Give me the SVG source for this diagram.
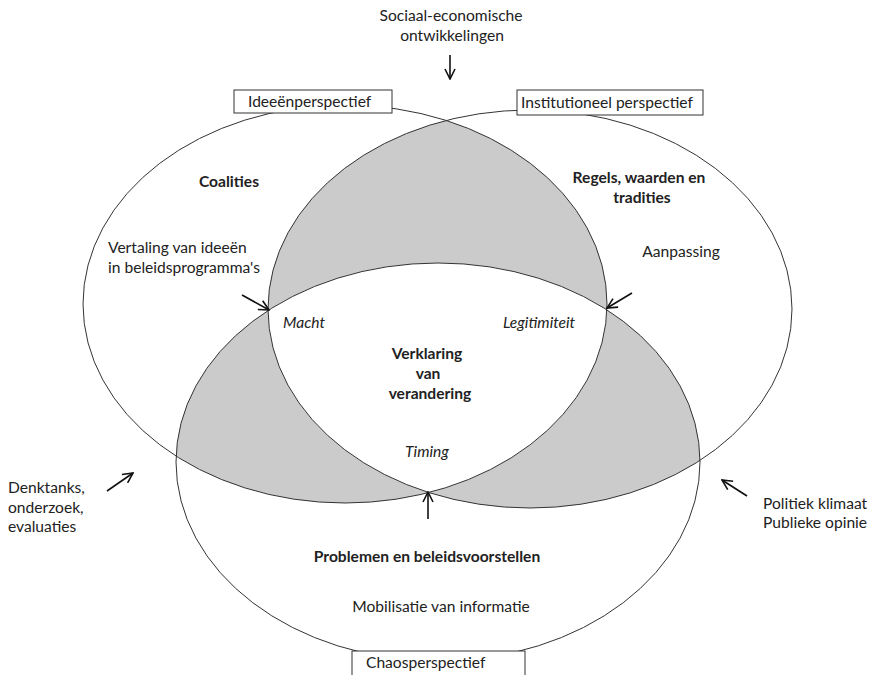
<svg xmlns="http://www.w3.org/2000/svg" width="875" height="675" viewBox="0 0 875 675">
<style>
text{font-family:Lato,"Open Sans","Liberation Sans",sans-serif;font-size:15.6px;fill:#222}
.b{font-weight:bold}
.i{font-style:italic}
.m{text-anchor:middle}
.outline{fill:none;stroke:#333;stroke-width:1}
.box{fill:#fff;stroke:#333;stroke-width:1}
.arrow{fill:none;stroke:#111;stroke-width:1.6;marker-end:url(#head)}
</style>
<defs>
<marker id="head" viewBox="0 0 12 12" refX="11" refY="6" markerWidth="12" markerHeight="12" markerUnits="userSpaceOnUse" orient="auto">
<path d="M1,1 L11,6 L1,11" fill="none" stroke="#111" stroke-width="1.6"/>
</marker>
<clipPath id="cL"><ellipse cx="345" cy="304" rx="262" ry="199"/></clipPath>
<clipPath id="cR"><ellipse cx="530" cy="309" rx="262" ry="199"/></clipPath>
<clipPath id="cB"><ellipse cx="438" cy="462" rx="262" ry="199"/></clipPath>
</defs>
<rect width="875" height="675" fill="#fff"/>
<g id="overlaps">
<ellipse cx="345" cy="304" rx="262" ry="199" fill="#cbcbcb" clip-path="url(#cR)"/>
<ellipse cx="345" cy="304" rx="262" ry="199" fill="#cbcbcb" clip-path="url(#cB)"/>
<ellipse cx="530" cy="309" rx="262" ry="199" fill="#cbcbcb" clip-path="url(#cB)"/>
<g clip-path="url(#cB)"><ellipse cx="345" cy="304" rx="262" ry="199" fill="#fff" clip-path="url(#cR)"/></g>
</g>
<g id="ideeen">
<ellipse class="outline" cx="345" cy="304" rx="262" ry="199"/>
<rect class="box" x="234" y="90" width="158" height="23"/>
<text x="248" y="107">Ideeënperspectief</text>
<text class="b m" x="229" y="187">Coalities</text>
<text x="108" y="253">Vertaling van ideeën</text>
<text x="108" y="273">in beleidsprogramma's</text>
</g>
<g id="institutioneel">
<ellipse class="outline" cx="530" cy="309" rx="262" ry="199"/>
<rect class="box" x="517" y="90" width="186" height="25"/>
<text x="521" y="108">Institutioneel perspectief</text>
<text class="b m" x="639" y="183">Regels, waarden en</text>
<text class="b m" x="642" y="203">tradities</text>
<text class="m" x="681" y="257">Aanpassing</text>
</g>
<g id="chaos">
<ellipse class="outline" cx="438" cy="462" rx="262" ry="199"/>
<rect class="box" x="352" y="651" width="173" height="30"/>
<text x="366" y="668">Chaosperspectief</text>
<text class="b m" x="427" y="562">Problemen en beleidsvoorstellen</text>
<text class="m" x="441" y="612">Mobilisatie van informatie</text>
</g>
<g id="centrum">
<text class="i" x="283" y="328">Macht</text>
<text class="i" x="503" y="328">Legitimiteit</text>
<text class="b m" x="427" y="359">Verklaring</text>
<text class="b m" x="428" y="379">van</text>
<text class="b m" x="430" y="399">verandering</text>
<text class="i m" x="427" y="457">Timing</text>
</g>
<g id="sociaal">
<text class="m" x="451" y="21">Sociaal-economische</text>
<text class="m" x="452" y="41">ontwikkelingen</text>
</g>
<g id="denktanks">
<text x="8" y="493">Denktanks,</text>
<text x="8" y="513">onderzoek,</text>
<text x="8" y="532">evaluaties</text>
</g>
<g id="politiek">
<text x="763" y="509">Politiek klimaat</text>
<text x="763" y="528">Publieke opinie</text>
</g>
<g id="connectors">
<line class="arrow" x1="450" y1="55" x2="450" y2="79"/>
<line class="arrow" x1="242" y1="295" x2="269" y2="310"/>
<line class="arrow" x1="632" y1="293" x2="607" y2="308"/>
<line class="arrow" x1="428" y1="519" x2="428" y2="492"/>
<line class="arrow" x1="107" y1="491" x2="133" y2="473"/>
<line class="arrow" x1="747" y1="496" x2="722" y2="480"/>
</g>
</svg>
